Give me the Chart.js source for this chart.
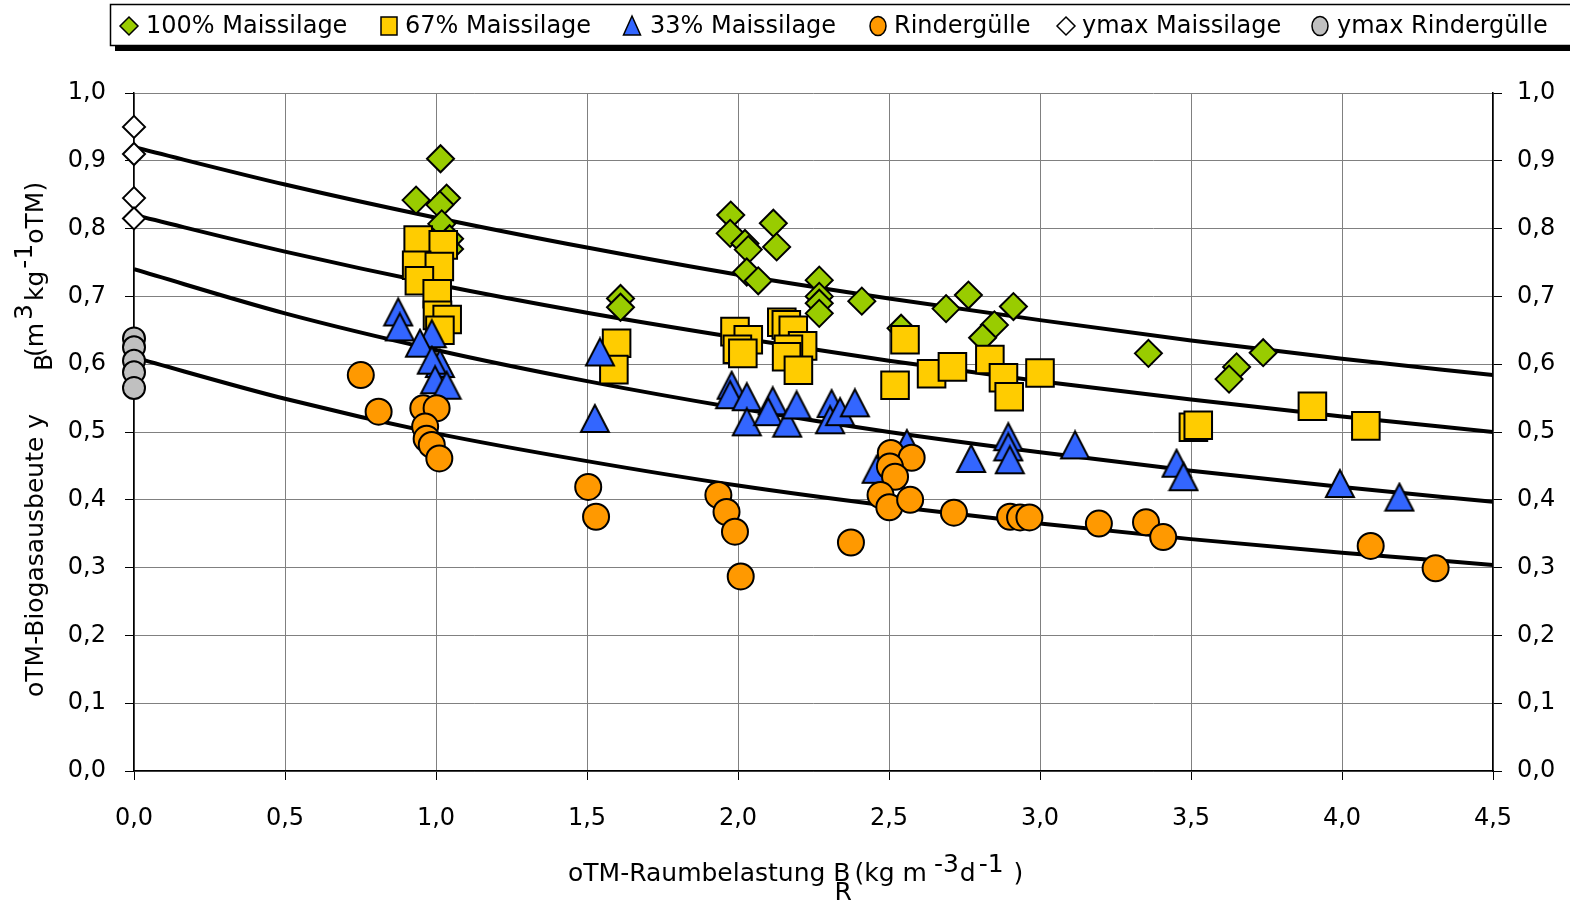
<!DOCTYPE html>
<html>
<head>
<meta charset="utf-8">
<script src="https://cdn.jsdelivr.net/npm/chart.js@4.4.1/dist/chart.umd.min.js"></script>
<style>
  html, body { margin: 0; padding: 0; background: #fff; }
  canvas { display: block; }
</style>
</head>
<body>
<canvas id="chart" width="1570" height="902"></canvas>
<script>
// --- data ---
const xTicks = [0, 0.5, 1, 1.5, 2, 2.5, 3, 3.5, 4, 4.5];

// fitted curves (read at the x ticks)
const curveX = [0, 0.5, 1.0, 1.5, 2.0, 2.5, 3.0, 3.5, 4.0, 4.5];
const curve100 = [0.920, 0.865, 0.816, 0.772, 0.732, 0.697, 0.665, 0.635, 0.608, 0.584];
const curve67 = [0.820, 0.766, 0.718, 0.676, 0.639, 0.605, 0.575, 0.548, 0.523, 0.500];
const curve33 = [0.740, 0.675, 0.621, 0.575, 0.535, 0.500, 0.470, 0.443, 0.419, 0.397];
const curveRG = [0.610, 0.549, 0.498, 0.457, 0.421, 0.391, 0.365, 0.342, 0.322, 0.304];

// 100% Maissilage
const mais100X = [1.015, 0.934, 1.035, 1.013, 1.019, 1.045, 1.045, 1.611, 1.611,
  1.976, 2.117, 1.974, 2.023, 2.034, 2.128, 2.029, 2.067, 2.269, 2.269, 2.269, 2.269, 2.410,
  2.540, 2.689, 2.763, 2.912, 2.849, 2.810, 3.359, 3.739, 3.651, 3.626];
const mais100Y = [0.903, 0.842, 0.845, 0.835, 0.807, 0.785, 0.770, 0.697, 0.684,
  0.820, 0.808, 0.793, 0.778, 0.769, 0.773, 0.736, 0.723, 0.724, 0.700, 0.690, 0.675, 0.693,
  0.653, 0.682, 0.702, 0.685, 0.658, 0.639, 0.616, 0.617, 0.596, 0.578];

// 67% Maissilage
const mais67X = [0.941, 1.024, 0.936, 1.011, 0.945, 1.004, 1.005, 1.037, 1.013, 1.598, 1.589,
  1.990, 2.034, 1.998, 2.016, 2.145, 2.160, 2.183, 2.214, 2.167, 2.161, 2.200,
  2.553, 2.520, 2.641, 2.710, 2.834, 2.879, 2.898, 3.000, 3.508, 3.524, 3.902, 4.079];
const mais67Y = [0.783, 0.776, 0.746, 0.744, 0.723, 0.704, 0.672, 0.666, 0.650, 0.631, 0.592,
  0.648, 0.636, 0.622, 0.616, 0.662, 0.658, 0.650, 0.627, 0.622, 0.611, 0.591,
  0.636, 0.569, 0.586, 0.596, 0.607, 0.580, 0.552, 0.587, 0.507, 0.510, 0.538, 0.509];

// 33% Maissilage
const mais33X = [0.875, 0.880, 0.986, 0.947, 1.013, 0.986, 0.997, 1.035, 1.543, 1.526,
  1.979, 1.974, 2.029, 2.029, 2.115, 2.100, 2.163, 2.194, 2.310, 2.305, 2.338, 2.387,
  2.559, 2.459, 2.772, 2.895, 2.895, 2.900, 3.116, 3.452, 3.475, 3.993, 4.190];
const mais33Y = [0.677, 0.655, 0.645, 0.631, 0.601, 0.606, 0.577, 0.569, 0.618, 0.520,
  0.569, 0.555, 0.552, 0.515, 0.546, 0.530, 0.513, 0.540, 0.542, 0.518, 0.530, 0.543,
  0.483, 0.445, 0.461, 0.493, 0.478, 0.459, 0.481, 0.454, 0.434, 0.424, 0.404];

// Rindergülle
const rgX = [0.751, 0.810, 0.958, 1.002, 0.964, 0.969, 0.986, 1.011, 1.504, 1.530,
  1.935, 1.962, 1.990, 2.009, 2.374, 2.506, 2.575, 2.503, 2.520, 2.472, 2.501, 2.570,
  2.715, 2.901, 2.934, 2.965, 3.195, 3.351, 3.408, 4.095, 4.310];
const rgY = [0.584, 0.530, 0.535, 0.535, 0.508, 0.490, 0.481, 0.461, 0.419, 0.375,
  0.407, 0.382, 0.353, 0.287, 0.337, 0.469, 0.462, 0.449, 0.434, 0.407, 0.389, 0.400,
  0.381, 0.375, 0.374, 0.374, 0.365, 0.367, 0.345, 0.332, 0.299];

// ymax values at B_R = 0
const ymaxMaisY = [0.950, 0.910, 0.845, 0.815];
const ymaxRgY = [0.638, 0.625, 0.605, 0.588, 0.565];

const legendLabels = ['100% Maissilage', '67% Maissilage', '33% Maissilage',
  'Rindergülle', 'ymax Maissilage', 'ymax Rindergülle'];

// --- helpers ---
const FONT = '"DejaVu Sans", Verdana, sans-serif';
Chart.defaults.font.family = FONT;
Chart.defaults.font.size = 24;
Chart.defaults.color = '#000';

const fmt = v => Number(v).toFixed(1).replace('.', ',');
const pts = (xs, ys) => xs.map((x, i) => ({ x: x, y: ys[i] }));
const zeros = ys => ys.map(() => 0);

function makeTriangle(w, h, fill, lw) {
  const c = document.createElement('canvas');
  c.width = w + 4; c.height = h + 4;
  const g = c.getContext('2d');
  g.beginPath();
  g.moveTo(c.width / 2, 2);
  g.lineTo(c.width - 2, h + 2);
  g.lineTo(2, h + 2);
  g.closePath();
  g.fillStyle = fill; g.fill();
  g.lineWidth = lw; g.strokeStyle = '#000'; g.lineJoin = 'miter';
  g.stroke();
  return c;
}
const triBig = makeTriangle(28, 27, '#3366FF', 2);

function curveSet(ys) {
  return {
    type: 'line', data: pts(curveX, ys), showLine: true, borderColor: '#000', borderWidth: 4,
    pointRadius: 0, tension: 0.4, cubicInterpolationMode: 'monotone', fill: false, order: 10
  };
}

function markerSet(data, style, radius, fill, order) {
  return {
    data: data, pointStyle: style, pointRadius: radius, pointHoverRadius: radius,
    backgroundColor: fill, borderColor: '#000', pointBorderWidth: 2, borderWidth: 2,
    clip: false, order: order
  };
}

// legend marker shapes
function legendMarker(ctx, kind, x, y, fill) {
  ctx.save();
  ctx.fillStyle = fill; ctx.strokeStyle = '#000'; ctx.lineWidth = 1.5;
  ctx.beginPath();
  if (kind === 'diamond') {
    ctx.moveTo(x, y - 9); ctx.lineTo(x + 9, y); ctx.lineTo(x, y + 9); ctx.lineTo(x - 9, y);
    ctx.closePath();
  } else if (kind === 'square') {
    ctx.rect(x - 8, y - 9, 16, 18);
  } else if (kind === 'triangle') {
    ctx.moveTo(x, y - 10); ctx.lineTo(x + 8.5, y + 9); ctx.lineTo(x - 8.5, y + 9); ctx.closePath();
  } else {
    ctx.ellipse(x, y, 8, 9.5, 0, 0, Math.PI * 2);
  }
  ctx.fill(); ctx.stroke();
  ctx.restore();
}

const legendLayout = [
  { kind: 'diamond', fill: '#99CC00', mx: 129, tx: 146 },
  { kind: 'square', fill: '#FFCC00', mx: 389, tx: 405 },
  { kind: 'triangle', fill: '#3366FF', mx: 632, tx: 650 },
  { kind: 'circle', fill: '#FF9900', mx: 878, tx: 894 },
  { kind: 'diamond', fill: '#FFFFFF', mx: 1066, tx: 1082 },
  { kind: 'circle', fill: '#C0C0C0', mx: 1320, tx: 1337 }
];

function drawLegend(ctx) {
  ctx.save();
  ctx.fillStyle = '#000';
  ctx.fillRect(115, 9, 1460, 42);
  ctx.fillStyle = '#fff';
  ctx.fillRect(110.5, 4.5, 1470, 41);
  ctx.strokeStyle = '#000'; ctx.lineWidth = 1.5;
  ctx.strokeRect(110.5, 4.5, 1470, 41);
  ctx.font = '24px ' + FONT;
  ctx.textBaseline = 'middle'; ctx.textAlign = 'left'; ctx.fillStyle = '#000';
  legendLayout.forEach((it, i) => {
    legendMarker(ctx, it.kind, it.mx, 26, it.fill);
    ctx.fillText(legendLabels[i], it.tx, 27);
  });
  ctx.restore();
}

function drawTitles(ctx) {
  ctx.save();
  ctx.font = '25px ' + FONT;
  ctx.fillStyle = '#000';
  ctx.textBaseline = 'alphabetic'; ctx.textAlign = 'left';
  const seg = (t, x, y) => { ctx.fillText(t, x, y); return x + ctx.measureText(t).width; };
  // x title: oTM-Raumbelastung B_R (kg m^-3 d^-1 )
  let x = 568;
  x = seg('oTM-Raumbelastung B', x, 881);
  seg('R', x - 16, 900);
  x = seg('(kg m', x + 4, 881);
  x = seg('-3', x + 7, 872);
  x = seg('d', x + 1, 881);
  x = seg('-1', x + 3, 872);
  seg(')', x + 10, 881);

  // y title (rotated): oTM-Biogasausbeute y_B (m^3 kg^-1 oTM)
  const vseg = (t, y, bx) => {
    ctx.save(); ctx.translate(bx, y); ctx.rotate(-Math.PI / 2);
    ctx.fillText(t, 0, 0); ctx.restore();
    return y - ctx.measureText(t).width;
  };
  vseg('oTM-Biogasausbeute y', 697, 43);
  vseg('B', 371, 52);
  let y = vseg('(m', 357, 43);
  y = vseg('3', y - 3, 32);
  y = vseg('kg', y - 3, 43);
  y = vseg('-1', y - 2, 32);
  vseg('oTM)', y, 43);
  ctx.restore();
}

const decor = {
  id: 'decor',
  beforeDraw(chart) {
    const ctx = chart.ctx;
    ctx.save(); ctx.fillStyle = '#fff'; ctx.fillRect(0, 0, chart.width, chart.height); ctx.restore();
  },
  afterDraw(chart) {
    drawLegend(chart.ctx);
    drawTitles(chart.ctx);
  }
};

const gridOpts = { color: '#808080', lineWidth: 1, tickLength: 9, tickColor: '#000', tickWidth: 1 };
const borderOpts = { color: '#000', width: 1.5 };

new Chart(document.getElementById('chart'), {
  type: 'scatter',
  data: {
    datasets: [
      curveSet(curve100), curveSet(curve67), curveSet(curve33), curveSet(curveRG),
      markerSet(pts(mais100X, mais100Y), 'rectRot', 13.5, '#99CC00', 6),
      markerSet(pts(mais67X, mais67Y), 'rect', 19.5, '#FFCC00', 5),
      markerSet(pts(mais33X, mais33Y), triBig, 14, '#3366FF', 4),
      markerSet(pts(rgX, rgY), 'circle', 13, '#FF9900', 3),
      markerSet(pts(zeros(ymaxMaisY), ymaxMaisY), 'rectRot', 11, '#FFFFFF', 2),
      markerSet(pts(zeros(ymaxRgY), ymaxRgY), 'circle', 11, '#C0C0C0', 1)
    ]
  },
  options: {
    responsive: false,
    animation: false,
    events: [],
    layout: { padding: { top: 93, left: 0, right: 0, bottom: 0 } },
    plugins: { legend: { display: false }, tooltip: { enabled: false } },
    scales: {
      x: {
        type: 'linear', min: 0, max: 4.5,
        afterBuildTicks: s => { s.ticks = xTicks.map(v => ({ value: v })); },
        ticks: { padding: 24, callback: fmt, maxRotation: 0, autoSkip: false },
        grid: gridOpts, border: borderOpts,
        afterFit: s => { s.height = 131; }
      },
      y: {
        position: 'left', min: 0, max: 1,
        ticks: { stepSize: 0.1, padding: 19, callback: fmt },
        grid: gridOpts, border: borderOpts,
        afterFit: s => { s.width = 134; }
      },
      y2: {
        position: 'right', min: 0, max: 1,
        ticks: { stepSize: 0.1, padding: 15, callback: fmt },
        grid: { drawOnChartArea: false, tickLength: 9, tickColor: '#000' }, border: borderOpts,
        afterFit: s => { s.width = 77; }
      }
    }
  },
  plugins: [decor]
});
</script>
</body>
</html>
